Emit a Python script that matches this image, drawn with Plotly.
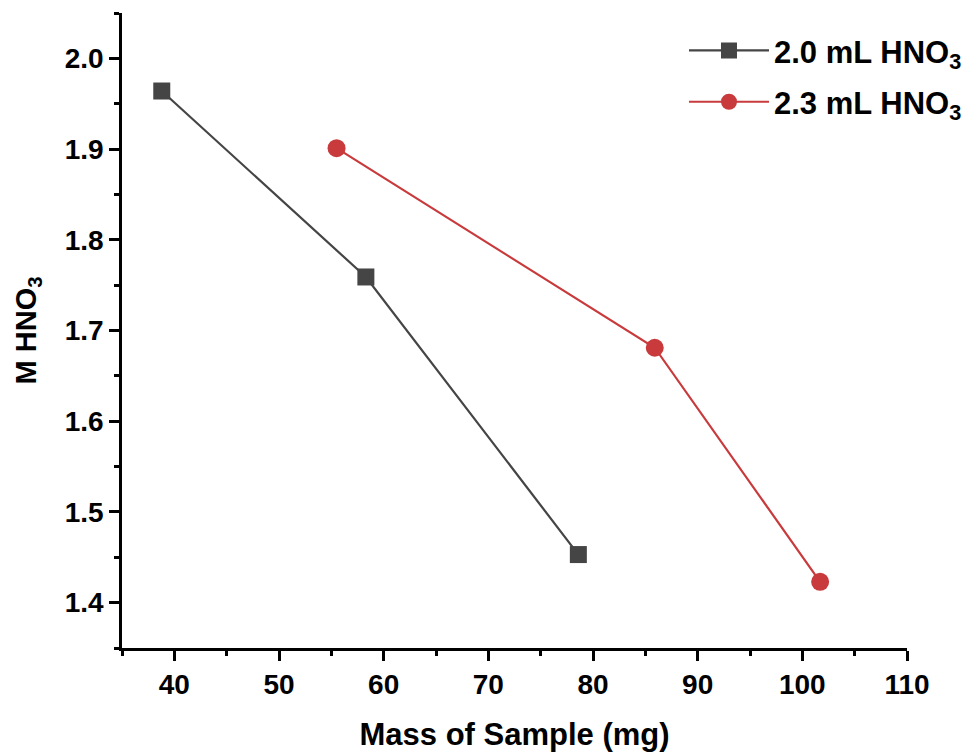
import plotly.graph_objects as go

mass_20 = [38.8, 58.3, 78.6]
m_20 = [1.964, 1.759, 1.453]
mass_23 = [55.5, 85.9, 101.7]
m_23 = [1.901, 1.681, 1.423]
names = ["2.0 mL HNO<sub>3</sub>", "2.3 mL HNO<sub>3</sub>"]
x_ticks = [40, 50, 60, 70, 80, 90, 100, 110]
y_ticks = [1.4, 1.5, 1.6, 1.7, 1.8, 1.9, 2.0]

FONT = "Liberation Sans, Arial, sans-serif"
fig = go.Figure()
fig.add_trace(go.Scatter(x=mass_20, y=m_20, mode="lines+markers", name=names[0],
                         legendgroup="a",
                         line=dict(color="#454545", width=2.2),
                         marker=dict(symbol="square", size=17, color="#454545")))
fig.add_trace(go.Scatter(x=mass_23, y=m_23, mode="lines+markers", name=names[1],
                         legendgroup="b",
                         line=dict(color="#c83a3c", width=2.2),
                         marker=dict(symbol="circle", size=18, color="#c83a3c")))

axis_common = dict(showline=True, linecolor="black", linewidth=2.5, ticks="outside",
                   ticklen=10, tickwidth=2.5, tickcolor="black", showgrid=False,
                   zeroline=False, mirror=False, automargin=False,
                   tickfont=dict(family=FONT, size=28, color="black", weight="bold"))
fig.update_xaxes(range=[35, 110], tickvals=x_ticks,
                 minor=dict(dtick=5, tick0=0, ticks="outside", ticklen=5, tickwidth=2.5, tickcolor="black"),
                 title=dict(text="Mass of Sample (mg)", standoff=28,
                            font=dict(family=FONT, size=31, color="black", weight="bold")),
                 **axis_common)
fig.update_yaxes(range=[1.35, 2.05], tickvals=y_ticks, tickformat=".1f",
                 minor=dict(dtick=0.05, tick0=0, ticks="outside", ticklen=5, tickwidth=2.5, tickcolor="black"),
                 title=dict(text="M HNO<sub>3</sub>", standoff=20,
                            font=dict(family=FONT, size=29, color="black", weight="bold")),
                 **axis_common)
fig.update_layout(width=978, height=752, plot_bgcolor="white", paper_bgcolor="white",
                  margin=dict(l=122, r=70, t=13, b=104),
                  showlegend=True,
                  legend=dict(x=0.715, y=0.983, xanchor="left", yanchor="top",
                              itemwidth=80, tracegroupgap=8, traceorder="grouped",
                              bgcolor="rgba(0,0,0,0)",
                              font=dict(family=FONT, size=31, color="black", weight="bold")))
fig.write_html("out.html")
